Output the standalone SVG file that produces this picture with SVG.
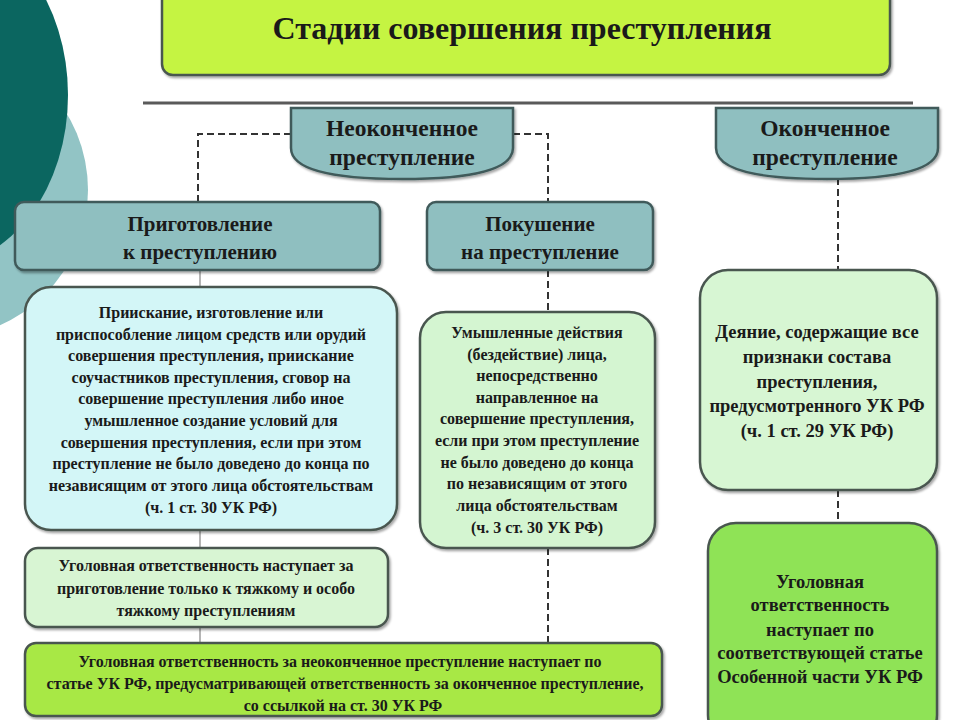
<svg xmlns="http://www.w3.org/2000/svg" width="960" height="720" viewBox="0 0 960 720">
<defs>
<filter id="sh" x="-5%" y="-5%" width="112%" height="115%">
<feDropShadow dx="1.5" dy="2" stdDeviation="1.2" flood-color="#000" flood-opacity="0.35"/>
</filter>
</defs>
<style>
text{font-family:'Liberation Serif','Times New Roman',serif;font-weight:bold;fill:#1a1a1a;text-anchor:middle}
.teal{fill:#8fbfc0;stroke:#3f5a5a;stroke-width:2.5;filter:url(#sh)}
.box{stroke:#4a5750;stroke-width:2.5;filter:url(#sh)}
.dash{fill:none;stroke:#333;stroke-width:2;stroke-dasharray:7 4}
.thin{fill:none;stroke:#b5b5b5;stroke-width:2}
.t23{font-size:23.5px}
.t18{font-size:21px}
.t16{font-size:16px}
.t17{font-size:18.5px}
</style>
<rect width="960" height="720" fill="#ffffff"/>
<g id="decor">
<circle cx="-60" cy="190" r="148" fill="#92c4c5"/>
<ellipse cx="-60" cy="95" rx="128" ry="170" fill="#0b6660"/>
</g>
<g id="title">
<rect class="box" x="162" y="-12" width="728" height="87" rx="11" fill="#c5f442" stroke="#56653a"/>
<text x="522" y="39" font-size="32">Стадии совершения преступления</text>
</g>
<line x1="143" y1="103" x2="913" y2="103" stroke="#5a5a5a" stroke-width="3"/>
<g id="connectors">
<path class="dash" d="M291,134 H198 V202"/>
<path class="dash" d="M513,134 H548 V202"/>
<path class="dash" d="M548,270 V312"/>
<path class="dash" d="M548,548 V643"/>
<path class="dash" d="M838,178 V270"/>
<path class="dash" d="M838,490 V523"/>
<path class="thin" d="M200,270 V287"/>
<path class="thin" d="M200,530 V548"/>
<path class="thin" d="M200,627 V643"/>
</g>
<g id="unfinished">
<path class="teal" d="M291,108 H513 V148 C513,171 468,179 402,179 C336,179 291,171 291,148 Z"/>
<text class="t23" x="402" y="136">Неоконченное</text>
<text class="t23" x="402" y="165">преступление</text>
</g>
<g id="finished">
<path class="teal" d="M716,108 H938 V148 C938,171 893,179 827,179 C761,179 716,171 716,148 Z"/>
<text class="t23" x="825" y="136">Оконченное</text>
<text class="t23" x="825" y="165">преступление</text>
</g>
<g id="preparation">
<rect class="teal" x="15" y="202" width="365" height="68" rx="9"/>
<text class="t18" x="200" y="231">Приготовление</text>
<text class="t18" x="200" y="259">к преступлению</text>
</g>
<g id="attempt">
<rect class="teal" x="427" y="202" width="226" height="68" rx="9"/>
<text class="t18" x="540" y="231">Покушение</text>
<text class="t18" x="540" y="259">на преступление</text>
</g>
<g id="prep-def">
<rect class="box" x="25" y="287" width="372" height="243" rx="26" fill="#d3f6f7"/>
<text class="t16" x="211" y="318">Приискание, изготовление или</text>
<text class="t16" x="211" y="339.6">приспособление лицом средств или орудий</text>
<text class="t16" x="211" y="361.2">совершения преступления, приискание</text>
<text class="t16" x="211" y="382.8">соучастников преступления, сговор на</text>
<text class="t16" x="211" y="404.4">совершение преступления либо иное</text>
<text class="t16" x="211" y="426">умышленное создание условий для</text>
<text class="t16" x="211" y="447.6">совершения преступления, если при этом</text>
<text class="t16" x="211" y="469.2">преступление не было доведено до конца по</text>
<text class="t16" x="211" y="490.8">независящим от этого лица обстоятельствам</text>
<text class="t16" x="211" y="513.4">(ч. 1 ст. 30 УК РФ)</text>
</g>
<g id="attempt-def">
<rect class="box" x="420" y="312" width="235" height="236" rx="26" fill="#d4f5d1"/>
<text class="t16" x="537" y="338">Умышленные действия</text>
<text class="t16" x="537" y="359.6">(бездействие) лица,</text>
<text class="t16" x="537" y="381.2">непосредственно</text>
<text class="t16" x="537" y="402.8">направленное на</text>
<text class="t16" x="537" y="424.4">совершение преступления,</text>
<text class="t16" x="537" y="446">если при этом преступление</text>
<text class="t16" x="537" y="467.6">не было доведено до конца</text>
<text class="t16" x="537" y="489.2">по независящим от этого</text>
<text class="t16" x="537" y="510.8">лица обстоятельствам</text>
<text class="t16" x="537" y="533">(ч. 3 ст. 30 УК РФ)</text>
</g>
<g id="finished-def">
<rect class="box" x="700" y="270" width="237" height="220" rx="28" fill="#d7f6d3"/>
<text class="t17" x="817" y="338">Деяние, содержащие все</text>
<text class="t17" x="817" y="363">признаки состава</text>
<text class="t17" x="817" y="388">преступления,</text>
<text class="t17" x="817" y="412">предусмотренного УК РФ</text>
<text class="t17" x="817" y="437">(ч. 1 ст. 29 УК РФ)</text>
</g>
<g id="prep-liability">
<rect class="box" x="25" y="548" width="363" height="79" rx="13" fill="#d8f5d3"/>
<text class="t16" x="206" y="571">Уголовная ответственность наступает за</text>
<text class="t16" x="206" y="594">приготовление только к тяжкому и особо</text>
<text class="t16" x="206" y="616">тяжкому преступлениям</text>
</g>
<g id="unfinished-liability">
<rect class="box" x="25" y="643" width="637" height="73" rx="11" fill="#a8e845"/>
<text class="t16" x="340" y="667">Уголовная ответственность за неоконченное преступление наступает  по</text>
<text class="t16" x="345" y="689">статье УК РФ, предусматривающей ответственность за оконченное преступление,</text>
<text class="t16" x="343" y="711">со ссылкой на ст. 30 УК РФ</text>
</g>
<g id="finished-liability">
<rect class="box" x="708" y="523" width="229" height="220" rx="28" fill="#8fe357"/>
<text class="t17" x="820" y="588">Уголовная</text>
<text class="t17" x="820" y="611">ответственность</text>
<text class="t17" x="820" y="636">наступает по</text>
<text class="t17" x="820" y="659">соответствующей статье</text>
<text class="t17" x="820" y="683">Особенной части УК РФ</text>
</g>
</svg>
